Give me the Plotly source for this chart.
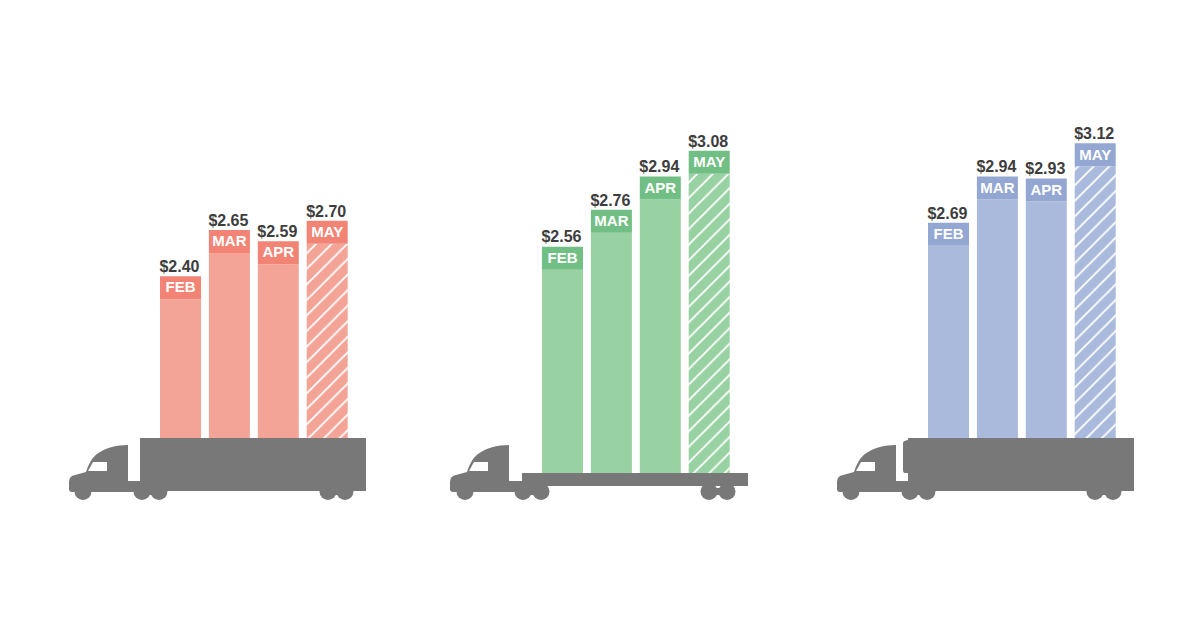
import plotly.graph_objects as go

months = ["FEB", "MAR", "APR", "MAY"]
red_values = [2.40, 2.65, 2.59, 2.70]
green_values = [2.56, 2.76, 2.94, 3.08]
blue_values = [2.69, 2.94, 2.93, 3.12]

W, H = 1200, 628
PX_PER_UNIT = 184.5
Y_ZERO_PX = 719.0
BAND = 23 / PX_PER_UNIT
BAR_W = 41
PITCH = 48.9
TRUCK = "#787878"


def price_at(px):
    return (Y_ZERO_PX - px) / PX_PER_UNIT


panels = [
    dict(values=red_values, first=180.5, base=price_at(438), body="#F3A497", band="#F28476"),
    dict(values=green_values, first=562.5, base=price_at(473), body="#98D1A2", band="#72BF85"),
    dict(values=blue_values, first=948.5, base=price_at(438), body="#AABADC", band="#93A7D2"),
]

fig = go.Figure()
for p in panels:
    xs = [p["first"] + PITCH * i for i in range(len(p["values"]))]
    tops = [v - BAND for v in p["values"]]
    fig.add_trace(go.Bar(
        x=xs, y=[t - p["base"] for t in tops], base=p["base"], width=BAR_W,
        marker=dict(
            color=p["body"], line=dict(width=0),
            pattern=dict(
                shape=["", "", "", "/"], fgcolor="white", bgcolor=p["body"],
                size=11, solidity=0.17, fillmode="replace",
            ),
        ),
        hoverinfo="skip", showlegend=False,
    ))
    fig.add_trace(go.Bar(
        x=xs, y=[BAND] * len(xs), base=tops, width=BAR_W,
        marker=dict(color=p["band"], line=dict(width=0)),
        hoverinfo="skip", showlegend=False,
    ))
    fig.add_trace(go.Scatter(
        x=xs, y=[v - BAND / 2 - 1.0 / PX_PER_UNIT for v in p["values"]], mode="text", text=months,
        textposition="middle center",
        textfont=dict(family="Liberation Sans", size=15, color="white", weight="bold"),
        hoverinfo="skip", showlegend=False,
    ))
    fig.add_trace(go.Scatter(
        x=[x - 1 for x in xs], y=[v + 0.2 / PX_PER_UNIT for v in p["values"]], mode="text",
        text=[f"${v:.2f}" for v in p["values"]],
        textposition="top center",
        textfont=dict(family="Liberation Sans", size=16, color="#3D3D3D", weight="bold"),
        hoverinfo="skip", showlegend=False,
    ))


def cab(dx):
    return (
        f"M{69+dx},489 L{69+dx},482 Q{69+dx},476 {75+dx},475 L{86+dx},472 "
        f"C{89+dx},463 {92+dx},458 {97+dx},454 C{105+dx},448 {116+dx},445 {128+dx},445 "
        f"L{128+dx},481 L{141+dx},481 L{141+dx},492 L{72+dx},492 Q{69+dx},492 {69+dx},489 Z"
    )


def window(dx):
    return f"M{93+dx},462 L{107+dx},462 L{107+dx},471 L{88+dx},471 Z"


def add_path(path, color):
    fig.add_shape(type="path", path=path, xref="x", yref="y2",
                  fillcolor=color, line=dict(width=0), layer="above")


def add_wheels(centres):
    for cx in centres:
        fig.add_shape(type="circle", xref="x", yref="y2",
                      x0=cx - 8.5, x1=cx + 8.5, y0=483, y1=500,
                      fillcolor=TRUCK, line=dict(width=0), layer="above")
    for a, b in (centres[1:3], centres[3:5]):
        add_path(f"M{a},488 L{b},488 L{b},495 L{a},495 Z", TRUCK)


add_path(cab(0), TRUCK)
add_path("M140,438 L366,438 L366,491 L140,491 Z", TRUCK)
add_wheels([83, 142, 159, 328, 345])
add_path(window(0), "white")

add_path(cab(381), TRUCK)
add_path("M522,473 L748,473 L748,486 L522,486 Z", TRUCK)
add_path("M510,481 L540,481 L540,492 L510,492 Z", TRUCK)
add_wheels([465, 523, 541, 709, 727])
add_path(window(381), "white")

add_path(cab(768), TRUCK)
add_path("M908,438 L1134,438 L1134,491 L908,491 L908,473 L905,473 Q903,473 903,470 "
         "L903,443 Q903,441 908,440 Z", TRUCK)
add_wheels([851, 910, 927, 1095, 1113])
add_path(window(768), "white")

fig.update_layout(
    width=W, height=H, margin=dict(l=0, r=0, t=0, b=0),
    paper_bgcolor="white", plot_bgcolor="white",
    barmode="overlay", showlegend=False,
    xaxis=dict(range=[0, W], visible=False, fixedrange=True),
    yaxis=dict(range=[price_at(H), price_at(0)], visible=False, fixedrange=True),
    yaxis2=dict(range=[H, 0], visible=False, overlaying="y", fixedrange=True),
)

fig.write_html("out.html", config={"displayModeBar": False},
               post_script="document.body.style.margin='0';document.documentElement.style.overflow='hidden';")
